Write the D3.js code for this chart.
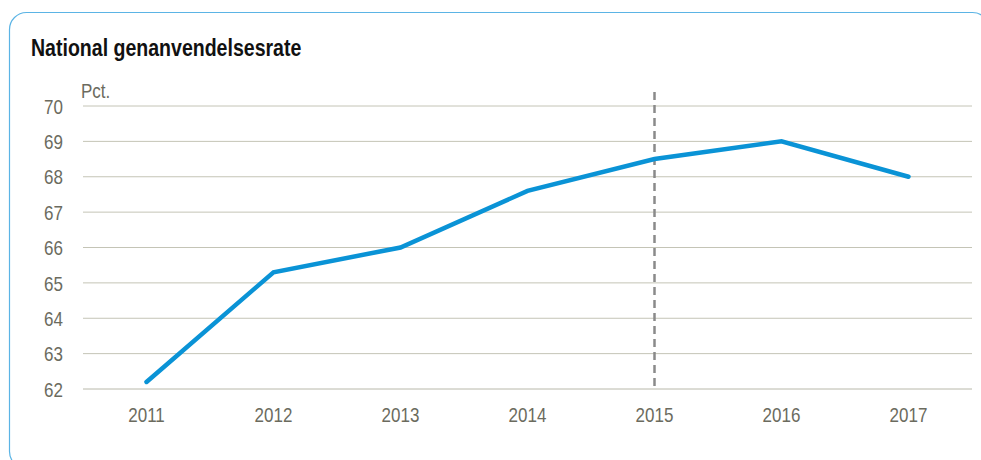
<!DOCTYPE html>
<html>
<head>
<meta charset="utf-8">
<script src="https://cdn.jsdelivr.net/npm/d3@7"></script>
<style>
  body { margin: 0; background: #fff; }
  svg { display: block; font-family: "Liberation Sans", Arial, sans-serif; }
</style>
</head>
<body>
<svg width="981" height="460"></svg>
<script>
var years = ["2011", "2012", "2013", "2014", "2015", "2016", "2017"];
var rates = [62.2, 65.3, 66.0, 67.6, 68.5, 69.0, 68.0];
var yTicks = [62, 63, 64, 65, 66, 67, 68, 69, 70];
var markYear = "2015";

var svg = d3.select("svg");
var font = "Liberation Sans, Arial, sans-serif";
var squeeze = "scale(0.85,1)"; // reference uses a narrow face

// rounded panel frame
svg.append("rect")
  .attr("x", 9.5).attr("y", 12.5)
  .attr("width", 980).attr("height", 456)
  .attr("rx", 17).attr("ry", 17)
  .attr("fill", "none")
  .attr("stroke", "#5bb4e5")
  .attr("stroke-width", 1.2);

svg.append("text")
  .attr("transform", "translate(31,56) " + squeeze)
  .attr("font-size", 23).attr("font-weight", "bold")
  .attr("font-family", font)
  .attr("fill", "#111")
  .text("National genanvendelsesrate");

var x = d3.scaleBand().domain(years).range([83, 972]).padding(0);
var y = d3.scaleLinear().domain([62, 70]).range([389, 106]);

var textCol = "#6b6b5e";

// gridlines
svg.append("g").selectAll("line").data(yTicks).enter().append("line")
  .attr("x1", 83).attr("x2", 972)
  .attr("y1", function(d) { return y(d); })
  .attr("y2", function(d) { return y(d); })
  .attr("stroke", function(d) { return d == 62 ? "#b8b8aa" : "#c4c4b6"; })
  .attr("stroke-width", 1);

var yAxis = svg.append("g")
  .attr("transform", "translate(63,0)")
  .call(d3.axisLeft(y).tickValues(yTicks).tickSize(0).tickPadding(0).tickFormat(d3.format("d")));
yAxis.select(".domain").remove();
yAxis.selectAll("text").attr("font-size", 20).attr("fill", textCol)
  .attr("x", 0).attr("dy", "0.36em")
  .attr("transform", squeeze)
  .attr("font-family", font);

var xAxis = svg.append("g")
  .attr("transform", "translate(0,389)")
  .call(d3.axisBottom(x).tickSize(0).tickPadding(0));
xAxis.select(".domain").remove();
xAxis.selectAll("text").attr("font-size", 20).attr("fill", textCol)
  .attr("dy", 0).attr("y", 33)
  .attr("transform", squeeze)
  .attr("font-family", font);

svg.append("text")
  .attr("transform", "translate(81,98) " + squeeze)
  .attr("font-size", 20).attr("fill", textCol)
  .attr("font-family", font)
  .text("Pct.");

// dashed marker
var mx = x(markYear) + x.bandwidth() / 2;
svg.append("line")
  .attr("x1", mx).attr("x2", mx)
  .attr("y1", 92).attr("y2", 389)
  .attr("stroke", "#8a8a8a")
  .attr("stroke-width", 2.5)
  .attr("stroke-dasharray", "8,5");

var line = d3.line()
  .x(function(d, i) { return x(years[i]) + x.bandwidth() / 2; })
  .y(function(d) { return y(d); });

svg.append("path")
  .datum(rates)
  .attr("d", line)
  .attr("fill", "none")
  .attr("stroke", "#0a93d6")
  .attr("stroke-width", 4.5)
  .attr("stroke-linecap", "round")
  .attr("stroke-linejoin", "miter");
</script>
</body>
</html>
